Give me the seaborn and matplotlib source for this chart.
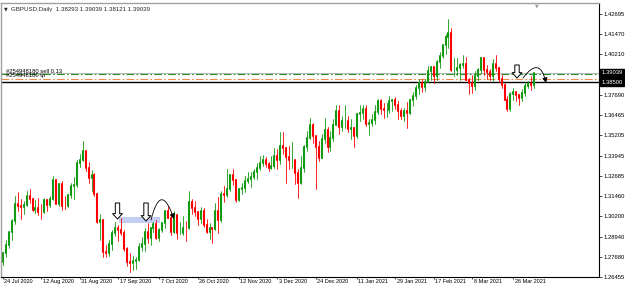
import matplotlib
matplotlib.use("Agg")
import matplotlib.pyplot as plt
import matplotlib.transforms as mtransforms
from matplotlib.patches import Rectangle
import numpy as np
import pandas as pd
import seaborn as sns
import seaborn.objects as so

# GBPUSD daily bars, 24 Jul 2020 .. 6 Apr 2021
opens = [
    1.2737, 1.2792, 1.2843, 1.2920, 1.2990, 1.3093, 1.3085, 1.3077, 1.3090, 1.3145,
    1.3125, 1.3060, 1.3073, 1.3048, 1.3045, 1.3117, 1.3090, 1.3125, 1.3242, 1.3095,
    1.3220, 1.3085, 1.3083, 1.3150, 1.3205, 1.3212, 1.3350, 1.3370, 1.3420, 1.3320,
    1.3255, 1.3275, 1.3155, 1.2985, 1.2995, 1.2800, 1.2795, 1.2850, 1.2915, 1.2950,
    1.2935, 1.2915, 1.2815, 1.2735, 1.2730, 1.2745, 1.2750, 1.2830, 1.2850, 1.2920,
    1.2885, 1.2945, 1.2970, 1.2885, 1.2935, 1.2975, 1.3050, 1.3010, 1.2920, 1.3030,
    1.2915, 1.2915, 1.2950, 1.2945, 1.3110, 1.3070, 1.3045, 1.3005, 1.3050, 1.2965,
    1.2920, 1.2945, 1.2940, 1.3050, 1.2995, 1.3155, 1.3150, 1.3185, 1.3275, 1.3245,
    1.3120, 1.3190, 1.3195, 1.3235, 1.3250, 1.3265, 1.3290, 1.3320, 1.3350, 1.3365,
    1.3345, 1.3315, 1.3330, 1.3390, 1.3365, 1.3455, 1.3440, 1.3385, 1.3365, 1.3365,
    1.3285, 1.3225, 1.3320, 1.3450, 1.3505, 1.3585, 1.3515, 1.3445, 1.3380, 1.3495,
    1.3555, 1.3445, 1.3505, 1.3585, 1.3670, 1.3570, 1.3610, 1.3610, 1.3560, 1.3565,
    1.3515, 1.3650, 1.3660, 1.3680, 1.3590, 1.3595, 1.3615, 1.3665, 1.3730, 1.3685,
    1.3675, 1.3675, 1.3730, 1.3735, 1.3705, 1.3670, 1.3640, 1.3670, 1.3655, 1.3735,
    1.3760, 1.3815, 1.3845, 1.3820, 1.3850, 1.3920, 1.3940, 1.3885, 1.3975, 1.4010,
    1.4080, 1.4130, 1.4150, 1.3925, 1.3925, 1.3935, 1.3955, 1.3960, 1.3860, 1.3840,
    1.3825, 1.3885, 1.3925, 1.3995, 1.3925, 1.3910, 1.3885, 1.3960, 1.3935, 1.3865,
    1.3830, 1.3740, 1.3680, 1.3775, 1.3790, 1.3770, 1.3750, 1.3780, 1.3825, 1.3835,
    1.38293,
]
highs = [
    1.2800, 1.2874, 1.2925, 1.3002, 1.3144, 1.3170, 1.3125, 1.3115, 1.3175, 1.3185,
    1.3135, 1.3118, 1.3135, 1.3095, 1.3131, 1.3125, 1.3145, 1.3267, 1.3250, 1.3227,
    1.3235, 1.3145, 1.3160, 1.3222, 1.3265, 1.3370, 1.3405, 1.3482, 1.3425, 1.3355,
    1.3305, 1.3285, 1.3165, 1.3035, 1.3000, 1.2845, 1.2875, 1.2935, 1.2985, 1.2965,
    1.3007, 1.2935, 1.2830, 1.2795, 1.2776, 1.2765, 1.2852, 1.2890, 1.2945, 1.2980,
    1.2945, 1.2985, 1.2995, 1.2945, 1.2985, 1.3060, 1.3085, 1.3040, 1.3055, 1.3030,
    1.2985, 1.3020, 1.2990, 1.3175, 1.3125, 1.3115, 1.3050, 1.3075, 1.3070, 1.3005,
    1.2980, 1.2955, 1.3100, 1.3140, 1.3175, 1.3208, 1.3313, 1.3280, 1.3310, 1.3250,
    1.3195, 1.3225, 1.3270, 1.3290, 1.3290, 1.3310, 1.3350, 1.3395, 1.3400, 1.3385,
    1.3355, 1.3395, 1.3440, 1.3435, 1.3540, 1.3540, 1.3445, 1.3455, 1.3480, 1.3365,
    1.3310, 1.3395, 1.3460, 1.3545, 1.3625, 1.3595, 1.3515, 1.3485, 1.3525, 1.3625,
    1.3570, 1.3545, 1.3620, 1.3705, 1.3705, 1.3640, 1.3705, 1.3640, 1.3620, 1.3570,
    1.3660, 1.3710, 1.3710, 1.3710, 1.3620, 1.3650, 1.3705, 1.3745, 1.3745, 1.3720,
    1.3720, 1.3760, 1.3745, 1.3755, 1.3730, 1.3690, 1.3690, 1.3725, 1.3745, 1.3785,
    1.3830, 1.3865, 1.3865, 1.3865, 1.3950, 1.3950, 1.3945, 1.3985, 1.4035, 1.4080,
    1.4145, 1.4241, 1.4180, 1.3995, 1.3995, 1.3965, 1.4015, 1.4005, 1.3875, 1.3895,
    1.3915, 1.3935, 1.4005, 1.4000, 1.3955, 1.3930, 1.3990, 1.4015, 1.3945, 1.3895,
    1.3845, 1.3760, 1.3785, 1.3810, 1.3790, 1.3775, 1.3805, 1.3850, 1.3855, 1.3885,
    1.39039,
]
lows = [
    1.2716, 1.2768, 1.2826, 1.2874, 1.2970, 1.3055, 1.3005, 1.3035, 1.3083, 1.3100,
    1.3054, 1.3040, 1.3025, 1.3000, 1.3040, 1.3055, 1.3075, 1.3120, 1.3100, 1.3085,
    1.3060, 1.3065, 1.3075, 1.3130, 1.3125, 1.3200, 1.3325, 1.3360, 1.3300, 1.3225,
    1.3175, 1.3145, 1.2975, 1.2875, 1.2765, 1.2765, 1.2775, 1.2810, 1.2895, 1.2865,
    1.2905, 1.2805, 1.2715, 1.2676, 1.2690, 1.2695, 1.2745, 1.2805, 1.2805, 1.2855,
    1.2845, 1.2925, 1.2880, 1.2865, 1.2920, 1.2945, 1.3010, 1.2905, 1.2915, 1.2880,
    1.2910, 1.2905, 1.2865, 1.2940, 1.3035, 1.3020, 1.2965, 1.2980, 1.2955, 1.2915,
    1.2880, 1.2855, 1.2935, 1.2915, 1.2985, 1.3110, 1.3140, 1.3175, 1.3215, 1.3105,
    1.3115, 1.3155, 1.3170, 1.3225, 1.3200, 1.3250, 1.3250, 1.3305, 1.3330, 1.3325,
    1.3300, 1.3310, 1.3315, 1.3310, 1.3345, 1.3405, 1.3225, 1.3310, 1.3320, 1.3220,
    1.3135, 1.3220, 1.3290, 1.3425, 1.3495, 1.3475, 1.3188, 1.3360, 1.3380, 1.3470,
    1.3415, 1.3425, 1.3485, 1.3585, 1.3525, 1.3545, 1.3565, 1.3540, 1.3495, 1.3450,
    1.3505, 1.3610, 1.3620, 1.3575, 1.3520, 1.3580, 1.3590, 1.3650, 1.3650, 1.3625,
    1.3635, 1.3660, 1.3670, 1.3685, 1.3620, 1.3620, 1.3610, 1.3565, 1.3650, 1.3700,
    1.3745, 1.3775, 1.3785, 1.3795, 1.3850, 1.3860, 1.3840, 1.3860, 1.3935, 1.3995,
    1.4025, 1.4060, 1.3915, 1.3885, 1.3890, 1.3860, 1.3935, 1.3860, 1.3775, 1.3780,
    1.3800, 1.3860, 1.3905, 1.3890, 1.3870, 1.3860, 1.3855, 1.3915, 1.3850, 1.3810,
    1.3735, 1.3670, 1.3670, 1.3740, 1.3730, 1.3710, 1.3730, 1.3760, 1.3815, 1.3800,
    1.38121,
]
closes = [
    1.2793, 1.2843, 1.2920, 1.2990, 1.3093, 1.3085, 1.3077, 1.3090, 1.3145, 1.3125,
    1.3060, 1.3073, 1.3048, 1.3045, 1.3117, 1.3090, 1.3125, 1.3242, 1.3095, 1.3220,
    1.3085, 1.3083, 1.3150, 1.3205, 1.3212, 1.3350, 1.3370, 1.3420, 1.3320, 1.3255,
    1.3275, 1.3155, 1.2985, 1.2995, 1.2800, 1.2795, 1.2850, 1.2915, 1.2950, 1.2935,
    1.2915, 1.2815, 1.2735, 1.2730, 1.2745, 1.2750, 1.2830, 1.2850, 1.2920, 1.2885,
    1.2945, 1.2970, 1.2885, 1.2935, 1.2975, 1.3050, 1.3010, 1.2920, 1.3030, 1.2915,
    1.2915, 1.2950, 1.2945, 1.3110, 1.3070, 1.3045, 1.3005, 1.3050, 1.2965, 1.2920,
    1.2945, 1.2940, 1.3050, 1.2995, 1.3155, 1.3150, 1.3185, 1.3275, 1.3245, 1.3120,
    1.3190, 1.3195, 1.3235, 1.3250, 1.3265, 1.3290, 1.3320, 1.3350, 1.3365, 1.3345,
    1.3315, 1.3330, 1.3390, 1.3365, 1.3455, 1.3440, 1.3385, 1.3365, 1.3365, 1.3285,
    1.3225, 1.3320, 1.3450, 1.3505, 1.3585, 1.3515, 1.3445, 1.3380, 1.3495, 1.3555,
    1.3445, 1.3505, 1.3585, 1.3670, 1.3570, 1.3610, 1.3610, 1.3560, 1.3565, 1.3515,
    1.3650, 1.3660, 1.3680, 1.3590, 1.3595, 1.3615, 1.3665, 1.3730, 1.3685, 1.3675,
    1.3675, 1.3730, 1.3735, 1.3705, 1.3670, 1.3640, 1.3670, 1.3655, 1.3735, 1.3760,
    1.3815, 1.3845, 1.3820, 1.3850, 1.3920, 1.3940, 1.3885, 1.3975, 1.4010, 1.4080,
    1.4130, 1.4150, 1.3925, 1.3925, 1.3935, 1.3955, 1.3960, 1.3860, 1.3840, 1.3825,
    1.3885, 1.3925, 1.3995, 1.3925, 1.3910, 1.3885, 1.3960, 1.3935, 1.3865, 1.3830,
    1.3740, 1.3680, 1.3775, 1.3790, 1.3770, 1.3750, 1.3780, 1.3825, 1.3835, 1.3830,
    1.39039,
]

date_labels = ["24 Jul 2020", "12 Aug 2020", "31 Aug 2020", "17 Sep 2020", "7 Oct 2020",
               "26 Oct 2020", "12 Nov 2020", "3 Dec 2020", "24 Dec 2020", "11 Jan 2021",
               "29 Jan 2021", "17 Feb 2021", "8 Mar 2021", "26 Mar 2021"]
date_bars = [0, 13, 26, 39, 53, 66, 80, 93, 106, 120, 133, 146, 159, 173]

price_ticks = [1.42695, 1.41470, 1.40210, 1.37690, 1.36465, 1.35205, 1.33945,
               1.32685, 1.31460, 1.30200, 1.28940, 1.27680, 1.26455]

bid_price = 1.39039
sell_price = 1.3897
tp_price = 1.3870
level_price = 1.38500
header = "GBPUSD,Daily  1.38293 1.39039 1.38121 1.39039"

df = pd.DataFrame({"bar": np.arange(len(closes)), "open": opens, "high": highs,
                   "low": lows, "close": closes})
df["body_lo"] = df[["open", "close"]].min(axis=1)
df["body_hi"] = df[["open", "close"]].max(axis=1)
df["side"] = np.where(df["close"] >= df["open"], "bull", "bear")

sns.set_theme(style="white")
fonts = ["Liberation Sans Narrow", "Liberation Sans", "DejaVu Sans"]
plt.rcParams["font.family"] = fonts

fig = plt.figure(figsize=(6.25, 2.84), dpi=100)
ax = fig.add_axes([1 / 625, 7 / 284, 598 / 625, 274 / 284])

theme = {**sns.axes_style("white"), "lines.solid_capstyle": "butt", "font.family": fonts}
palette = {"bull": "#129a12", "bear": "#ff0000"}
(
    so.Plot(df, x="bar", color="side")
    .add(so.Range(linewidth=0.6), ymin="low", ymax="high", legend=False)
    .add(so.Range(linewidth=1.5), ymin="body_lo", ymax="body_hi", legend=False)
    .scale(color=palette)
    .theme(theme)
    .on(ax)
    .plot()
)

ax.set_xlabel("")
ax.set_ylabel("")
ax.set_facecolor("white")
ax.grid(False)

# pixel helpers for the hand drawn objects
px_bar = 2.95
def bx(x):
    return (x - 3) / px_bar

def py(y):
    return 1.42695 - (y - 14) * 0.000618

ax.set_xlim(bx(1), bx(599))
ax.set_ylim(py(277), py(3))

# highlighted zone
ax.add_patch(Rectangle((bx(119), py(223)), bx(160) - bx(119), py(217) - py(223),
                       facecolor="#c3cff2", edgecolor="none", zorder=0.5))

# order / level lines
ax.axhline(bid_price, color="#b8b8b8", lw=0.7, zorder=1)
ax.axhline(sell_price, color="#2b8f2b", lw=0.8, ls=(0, (7, 2, 1.5, 2)), zorder=1)
ax.axhline(tp_price, color="#ee8a4a", lw=0.8, ls=(0, (7, 2, 1.5, 2)), zorder=1)
ax.axhline(level_price, color="black", lw=1.0, zorder=1)

blend = mtransforms.blended_transform_factory(ax.transAxes, ax.transData)
ax.text(0.008, sell_price + 0.0004, "#254948180 sell 0.13", transform=blend,
        fontsize=4.2, va="bottom", ha="left", color="black")
ax.text(0.008, tp_price + 0.0002, "#254948180 tp", transform=blend,
        fontsize=4.2, va="bottom", ha="left", color="black")

for val, dy in [(bid_price, 0.0003), (level_price, -0.0003)]:
    ax.text(1.004, val + dy, f"{val:.5f}", transform=blend, fontsize=4.2, color="white",
            va="center", ha="left",
            bbox=dict(boxstyle="square,pad=0.25", fc="black", ec="black"))

# arrows drawn on the chart
hollow = dict(arrowstyle="simple,head_length=0.55,head_width=1.0,tail_width=0.45",
              fc="white", ec="black", lw=0.7, shrinkA=0, shrinkB=0, mutation_scale=7)
for x, y0, y1 in [(117.5, 203, 219), (146, 203, 221), (517, 65, 78)]:
    ax.annotate("", xy=(bx(x), py(y1)), xytext=(bx(x), py(y0)), arrowprops=hollow)

curve = dict(arrowstyle="-|>,head_length=0.5,head_width=0.25", color="black", lw=0.6,
             shrinkA=0, shrinkB=0, mutation_scale=6)
ax.annotate("", xy=(bx(174), py(219)), xytext=(bx(151), py(220)),
            arrowprops={**curve, "connectionstyle": "arc3,rad=-1.7"})
ax.annotate("", xy=(bx(546), py(83)), xytext=(bx(523), py(78)),
            arrowprops={**curve, "connectionstyle": "arc3,rad=-1.1"})

# axes styling
ax.yaxis.tick_right()
ax.set_yticks(price_ticks)
ax.set_yticklabels([f"{v:.5f}" for v in price_ticks])
ax.set_xticks(date_bars)
ax.set_xticklabels(date_labels)
ax.tick_params(axis="y", which="both", right=True, left=False, direction="out",
               length=2, width=0.5, pad=1.5, labelsize=4.2, colors="black")
ax.tick_params(axis="x", which="both", bottom=True, direction="out", length=1.5,
               width=0.5, pad=0, labelsize=4.0, colors="black")
shift = mtransforms.ScaledTranslation(1.5 / 100, 0, fig.dpi_scale_trans)
for lab in ax.get_xticklabels():
    lab.set_ha("left")
    lab.set_transform(lab.get_transform() + shift)

for side in ["right", "bottom"]:
    ax.spines[side].set_color("black")
    ax.spines[side].set_linewidth(0.8)
for side in ["left", "top"]:
    ax.spines[side].set_color("#a0a0a0")
    ax.spines[side].set_linewidth(1.0)

# header and chart shift marker
fig.text(4 / 625, 1 - 9 / 284, "\u25bc", fontsize=3.5, va="center", ha="left",
         family=["DejaVu Sans"])
fig.text(11 / 625, 1 - 9 / 284, header, fontsize=4.4, va="center", ha="left")
fig.text(537 / 625, 1 - 6 / 284, "\u25bc", fontsize=3.5, va="center", ha="center",
         color="#a0a0a0", family=["DejaVu Sans"])

fig.savefig("out.png", dpi=100, facecolor="white")
